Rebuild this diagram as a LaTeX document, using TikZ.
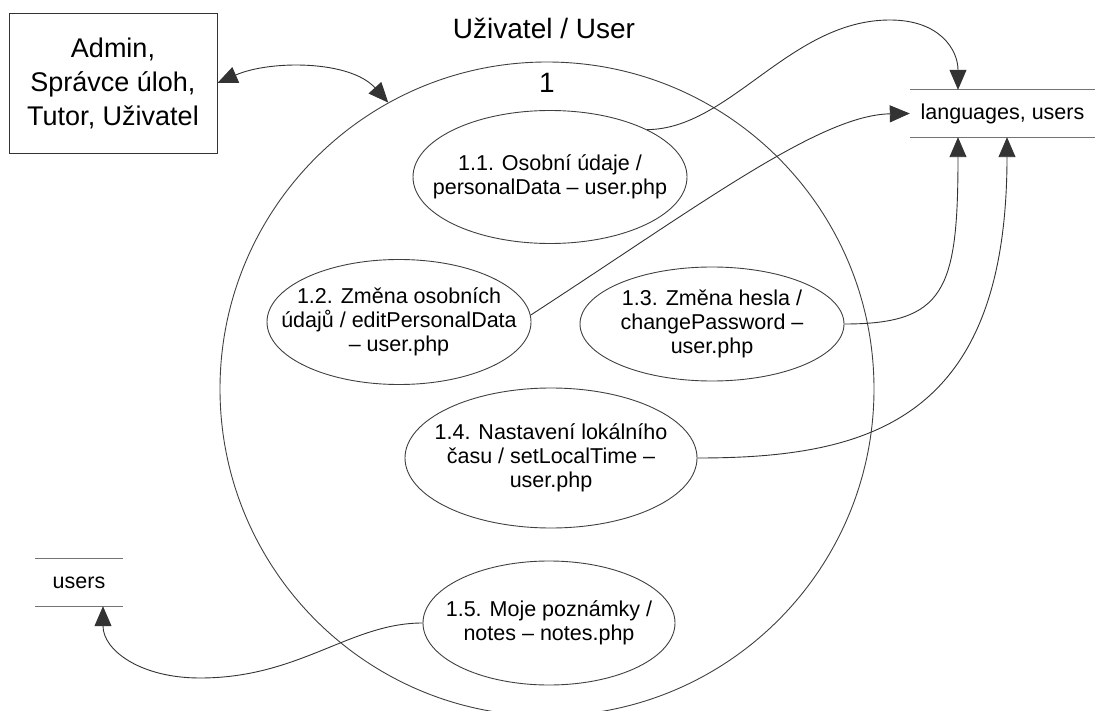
\documentclass[tikz,border=0pt]{standalone}
\usepackage{fontspec}
\setmainfont{Liberation Sans}
\usetikzlibrary{arrows.meta,shapes.geometric,calc}
\tikzset{
    procnode/.style={draw=black!75, ellipse, inner sep=0pt, line width=0.9pt},
    proctext/.style={align=center, inner sep=0pt, font=\fontsize{21.5}{24}\selectfont},
    storelabel/.style={inner sep=0pt, font=\fontsize{21.5}{24}\selectfont},
    storeline/.style={draw=black!55, line width=1.2pt},
    bigtext/.style={inner sep=0pt, font=\fontsize{28}{32}\selectfont},
    flowarrow/.style={-{Triangle[length=20pt,width=17pt]}, draw=black!80, line width=0.9pt},
    bothflow/.style={{Triangle[length=20pt,width=17pt]}-{Triangle[length=20pt,width=17pt]},
        draw=black!80, line width=0.9pt}
}

\begin{document}
\begin{tikzpicture}[x=1pt,y=-1pt]
\useasboundingbox (0,0) rectangle (1095,711);
% outer entity and the process
\node[draw=black!80, line width=0.9pt, minimum width=208pt, minimum height=140pt, inner sep=0pt,
    align=center, font=\fontsize{27}{34}\selectfont] (actors) at (113,83) {Admin,\\Správce úloh,\\Tutor, Uživatel};
\node[bigtext] (title) at (544,28) {Uživatel / User};
\node[draw=black!75, circle, line width=0.9pt, minimum size=654pt, inner sep=0pt] (proc) at (547,389) {};
\node[bigtext] (procid) at (547,83) {1};

% subprocesses
\node[procnode, minimum width=274pt, minimum height=133pt] (p11) at (550,177) {};
\node[proctext] (t11) at (p11) {1.1. Osobní údaje /\\personalData – user.php};
\node[procnode, minimum width=264pt, minimum height=125pt] (p12) at (399,322) {};
\node[proctext] (t12) at (p12) {1.2. Změna osobních\\údajů / editPersonalData\\– user.php};
\node[procnode, minimum width=264pt, minimum height=114pt] (p13) at (712,324) {};
\node[proctext] (t13) at (p13) {1.3. Změna hesla /\\changePassword –\\user.php};
\node[procnode, minimum width=292pt, minimum height=140pt] (p14) at (551,458) {};
\node[proctext] (t14) at (p14) {1.4. Nastavení lokálního\\času / setLocalTime –\\user.php};
\node[procnode, minimum width=252pt, minimum height=124pt] (p15) at (549,623) {};
\node[proctext] (t15) at (p15) {1.5. Moje poznámky /\\notes – notes.php};

% data stores
\node[storelabel, minimum width=185pt, minimum height=47pt] (langs) at (1002.5,113.5) {languages, users};
\draw[storeline] (langs.north west) -- (langs.north east);
\draw[storeline] (langs.south west) -- (langs.south east);
\node[storelabel, minimum width=88pt, minimum height=47pt] (users) at (79,582.5) {users};
\draw[storeline] (users.north west) -- (users.north east);
\draw[storeline] (users.south west) -- (users.south east);

% flows
\draw[bothflow] (actors.east) .. controls (270,60) and (350,60) .. (proc.119);
\draw[flowarrow] (p11.26) .. controls (730,129) and (790,20) .. (890,20)
    .. controls (940,20) and (958,50) .. ([xshift=-44.5pt]langs.north);
\draw[flowarrow] (p12.3) .. controls (700,205) and (820,115) .. (langs.west);
\draw[flowarrow] (p13.east) .. controls (945,324) and (958,290) .. ([xshift=-44.5pt]langs.south);
\draw[flowarrow] (p14.east) .. controls (870,458) and (1007,420) .. ([xshift=4.5pt]langs.south);
\draw[flowarrow] (p15.west) .. controls (350,623) and (300,678) .. (200,678)
    .. controls (140,678) and (103,650) .. ([xshift=24pt]users.south);
\end{tikzpicture}
\end{document}
